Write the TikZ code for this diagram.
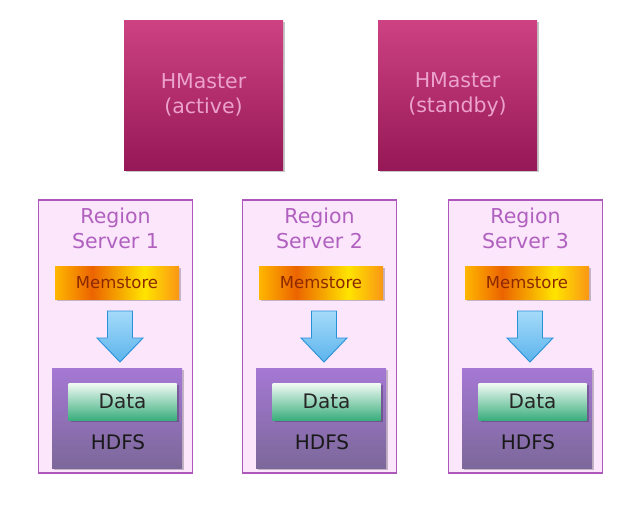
\documentclass[tikz,border=0pt]{standalone}
\usepackage{fontspec}
\setmainfont{DejaVu Sans}
\usetikzlibrary{shadows}
\definecolor{mTop}{RGB}{205,66,130}
\definecolor{mBot}{RGB}{150,24,86}
\definecolor{mText}{RGB}{236,162,206}
\definecolor{rsFill}{RGB}{252,230,252}
\definecolor{rsLine}{RGB}{172,88,186}
\definecolor{rsText}{RGB}{176,96,190}
\definecolor{memA}{RGB}{255,182,0}
\definecolor{memB}{RGB}{236,100,0}
\definecolor{memC}{RGB}{255,228,0}
\definecolor{memD}{RGB}{250,150,20}
\definecolor{memText}{RGB}{140,40,0}
\definecolor{hTop}{RGB}{165,120,212}
\definecolor{hBot}{RGB}{124,104,154}
\definecolor{dTop}{RGB}{242,250,245}
\definecolor{dBot}{RGB}{58,174,124}
\definecolor{aTop}{RGB}{165,218,250}
\definecolor{aBot}{RGB}{92,180,236}
\definecolor{aLine}{RGB}{40,145,215}
\pgfdeclarehorizontalshading{memshade}{100bp}{color(0bp)=(memA); color(25bp)=(memA); color(40bp)=(memB); color(61bp)=(memC); color(75bp)=(memD); color(100bp)=(memD)}
\tikzset{
  softshadow/.style={drop shadow={shadow xshift=2pt, shadow yshift=-2pt, opacity=0.22, fill=black}},
  master/.style={rectangle, minimum width=159pt, minimum height=150pt, inner sep=0pt,
    top color=mTop, bottom color=mBot, text=mText, align=center,
    font=\fontsize{20.5}{25}\selectfont, softshadow},
  rsbox/.style={rectangle, draw=rsLine, line width=1.5pt, fill=rsFill,
    minimum width=154pt, minimum height=273pt, inner sep=0pt},
  rstext/.style={align=center, text=rsText, inner sep=0pt, font=\fontsize{20.5}{25}\selectfont},
  mem/.style={rectangle, minimum width=124pt, minimum height=33pt, inner sep=0pt,
    shading=memshade, text=memText, font=\fontsize{16.5}{18}\selectfont, softshadow},
  hdfs/.style={rectangle, minimum width=130pt, minimum height=100pt, inner sep=0pt,
    top color=hTop, bottom color=hBot, softshadow},
  datab/.style={rectangle, minimum width=108pt, minimum height=37pt, inner sep=0pt,
    top color=dTop, bottom color=dBot, text=black!85, font=\fontsize{20}{22}\selectfont, softshadow},
  hdfstext/.style={inner sep=0pt, text=black!90, font=\fontsize{20}{22}\selectfont},
  fatarrow/.style={draw=aLine, line width=0.9pt, line join=miter, top color=aTop, bottom color=aBot}
}
\begin{document}
\begin{tikzpicture}[x=1pt,y=-1pt]
\useasboundingbox[fill=white] (0,0) rectangle (635,507);
\node[master] (m1) at (203.5,95) {HMaster\\(active)};
\node[master] (m2) at (457.5,95) {HMaster\\(standby)};
\foreach \i/\c in {1/115.5, 2/319.5, 3/525.5}{
  \node[rsbox] (rs\i) at (\c,336.5) {};
  \node[rstext] (rt\i) at (\c,228) {Region\\Server \i};
  \node[mem] (mem\i) at (\c+1.5,282.5) {Memstore};
  \node[hdfs] (hdfs\i) at (\c+1.5,418) {};
  \node[datab] (data\i) at (\c+7,401.5) {Data};
  \node[hdfstext] (ht\i) at (\c+2.5,442.7) {HDFS};
  \coordinate (a\i) at (\c+4.5,311);
  \draw[fatarrow] (a\i) ++(-12.5,0) -- ++(25,0) -- ++(0,27) -- ++(10.5,0)
     -- ++(-23,24) -- ++(-23,-24) -- ++(10.5,0) -- cycle;
}
\end{tikzpicture}
\end{document}
